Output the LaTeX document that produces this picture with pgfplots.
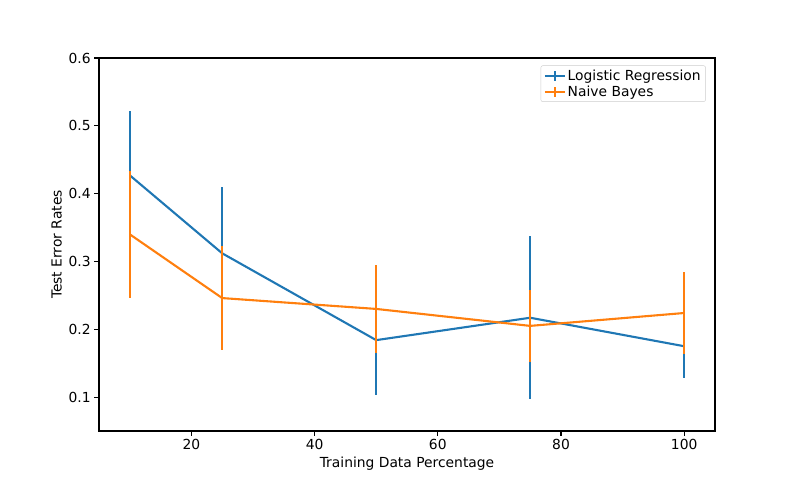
\documentclass[border=0pt]{standalone}
\usepackage{pgfplots}
\pgfplotsset{compat=1.18}
\usepackage{fontspec}
\setmainfont{DejaVu Sans}
\definecolor{c0}{HTML}{1F77B4}
\definecolor{c1}{HTML}{FF7F0E}
\begin{document}
\begin{tikzpicture}[font=\fontsize{13.9}{16}\selectfont]
\begin{axis}[
  scale only axis, width=616bp, height=373bp,
  xmin=5, xmax=105, ymin=0.05, ymax=0.6,
  xtick={20,40,60,80,100}, ytick={0.1,0.2,0.3,0.4,0.5,0.6},
  yticklabel style={/pgf/number format/fixed,/pgf/number format/precision=1,/pgf/number format/fixed zerofill},
  /pgf/number format/assume math mode=true,
  tick label style={font=\fontsize{13.9}{16}\selectfont},
  label style={font=\fontsize{13.9}{16}\selectfont},
  axis line style={line width=1.1bp},
  tick align=outside, tick style={black, line width=1.1bp}, major tick length=4.9bp,
  xtick pos=bottom, ytick pos=left,
  xlabel={Training Data Percentage}, ylabel={Test Error Rates},
  legend pos=north east,
  legend style={draw=black!20, rounded corners=2pt, font=\fontsize{13.9}{16}\selectfont, cells={anchor=west}, at={(0.985,0.98)}},
  legend image code/.code={\draw[#1] (0cm,0cm) -- (0.7cm,0cm); \draw[#1] (0.35cm,-0.18cm) -- (0.35cm,0.18cm);},
]
\addplot[c0, line width=2.1bp, error bars/.cd, y dir=both, y explicit, error mark=none, error bar style={c0, line width=2.1bp}]
 coordinates {(10,0.427) +- (0,0.095) (25,0.312) +- (0,0.098) (50,0.184) +- (0,0.081) (75,0.217) +- (0,0.12) (100,0.175) +- (0,0.047)};
\addlegendentry{Logistic Regression}
\addplot[c1, line width=2.1bp, error bars/.cd, y dir=both, y explicit, error mark=none, error bar style={c1, line width=2.1bp}]
 coordinates {(10,0.34) +- (0,0.094) (25,0.246) +- (0,0.077) (50,0.23) +- (0,0.065) (75,0.205) +- (0,0.053) (100,0.224) +- (0,0.06)};
\addlegendentry{Naive Bayes}
\path (rel axis cs:0,0) coordinate (sw) (rel axis cs:1,1) coordinate (ne);
\end{axis}
\useasboundingbox ([shift={(-99bp,-53bp)}]sw) rectangle ([shift={(79bp,58bp)}]ne);
\end{tikzpicture}
\end{document}
